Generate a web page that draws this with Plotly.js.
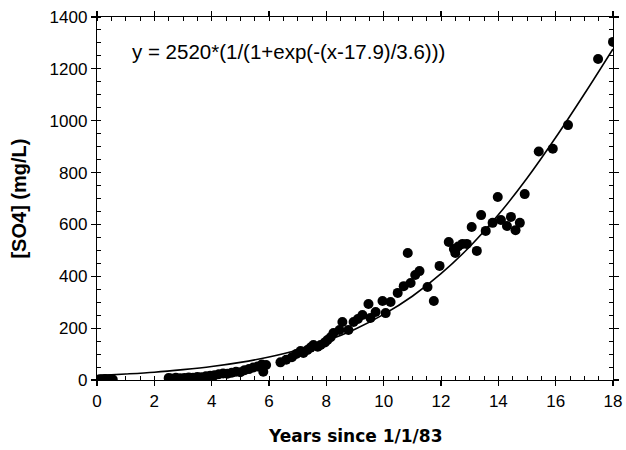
<!DOCTYPE html>
<html>
<head>
<meta charset="utf-8">
<script src="https://cdn.plot.ly/plotly-3.0.1.min.js"></script>
<style>html,body{margin:0;padding:0;background:#fff;}#chart{width:626px;height:450px;}</style>
</head>
<body>
<div id="chart"></div>
<script>
// Observed sulfate concentrations (years since 1/1/83, mg/L)
const obsYears = [0.12,0.2,0.28,0.36,0.45,0.55,
  2.5,2.6,2.75,2.9,3.05,3.2,3.35,3.5,3.65,3.8,3.95,4.1,4.25,4.4,4.55,4.7,4.85,5.0,5.15,5.3,5.45,5.6,5.75,5.8,5.9,
  6.4,6.6,6.8,6.95,7.1,7.2,7.34,7.45,7.55,7.7,7.8,7.95,8.04,8.15,8.25,8.46,8.56,8.77,8.95,9.1,9.26,9.47,9.54,9.72,9.96,
  10.07,10.24,10.49,10.7,10.84,10.94,11.1,11.25,11.53,11.75,11.95,12.27,12.45,12.5,12.6,12.75,12.9,13.07,13.25,13.4,13.56,
  13.8,13.98,14.09,14.3,14.44,14.6,14.75,14.92,15.41,15.9,16.43,17.48,18.0];
const obsSO4 = [3,2,4,2,3,2,
  8,6,9,7,8,10,9,12,11,14,16,18,22,25,24,28,32,30,38,42,48,52,60,32,58,
  68,78,88,100,112,104,116,125,135,128,135,145,154,165,181,193,224,193,224,235,251,293,239,262,305,
  258,301,336,362,490,374,405,420,359,305,440,532,505,490,515,525,525,590,498,636,575,
  606,706,617,594,629,578,606,717,881,892,983,1238,1304];

// Fitted logistic curve as drawn (read at whole years)
const fitYears = [0,1,2,3,4,5,6,7,8,9,10,11,12,13,14,15,16,17,18];
const fitSO4 = [17,23,30,40,52,68,89,116,151,196,253,323,410,514,637,778,935,1103,1277];

const xTickVals = [0,2,4,6,8,10,12,14,16,18];
const yTickVals = [0,200,400,600,800,1000,1200,1400];
const equationText = "y = 2520*(1/(1+exp(-(x-17.9)/3.6)))";
const xTitle = "Years since 1/1/83";
const yTitle = "[SO4] (mg/L)";

const traces = [
  {x: fitYears, y: fitSO4, mode: 'lines', line: {color: '#000', width: 1.6, shape: 'spline'}, hoverinfo: 'skip'},
  {x: obsYears, y: obsSO4, mode: 'markers', marker: {color: '#000', size: 10}}
];

const axisCommon = {
  showgrid: false, zeroline: false, showline: true, linecolor: '#000', linewidth: 1.2,
  mirror: 'allticks', ticks: 'outside', ticklen: 5, tickwidth: 1.2, tickcolor: '#000',
  tickfont: {family: 'Liberation Sans, Arial, sans-serif', size: 17, color: '#000'}
};

const layout = {
  width: 626, height: 450,
  margin: {l: 97, r: 13, t: 17, b: 70},
  paper_bgcolor: '#fff', plot_bgcolor: '#fff',
  showlegend: false,
  xaxis: Object.assign({}, axisCommon, {
    range: [0, 18], tickvals: xTickVals, ticktext: xTickVals.map(String),
    minor: {dtick: 0.5, ticks: 'inside', ticklen: 4, tickcolor: '#000', tickwidth: 1}
  }),
  yaxis: Object.assign({}, axisCommon, {
    range: [0, 1400], tickvals: yTickVals, ticktext: yTickVals.map(String),
    minor: {dtick: 50, ticks: 'inside', ticklen: 4, tickcolor: '#000', tickwidth: 1}
  }),
  annotations: [
    {xref: 'paper', yref: 'paper', x: 0.372, y: 0.904, xanchor: 'center', yanchor: 'middle',
      text: equationText, showarrow: false,
      font: {family: 'Liberation Sans, Arial, sans-serif', size: 20.5, color: '#000'}},
    {xref: 'paper', yref: 'paper', x: 0.5, y: -0.154, xanchor: 'center', yanchor: 'middle',
      text: '<b>' + xTitle + '</b>', showarrow: false,
      font: {family: 'DejaVu Sans, Liberation Sans, sans-serif', size: 17, color: '#000'}},
    {xref: 'paper', yref: 'paper', x: -0.153, y: 0.5, xanchor: 'center', yanchor: 'middle',
      text: '<b>' + yTitle + '</b>', showarrow: false, textangle: -90,
      font: {family: 'Liberation Sans, Arial, sans-serif', size: 20, color: '#000'}}
  ]
};

Plotly.newPlot('chart', traces, layout, {displayModeBar: false, staticPlot: true});
</script>
</body>
</html>
